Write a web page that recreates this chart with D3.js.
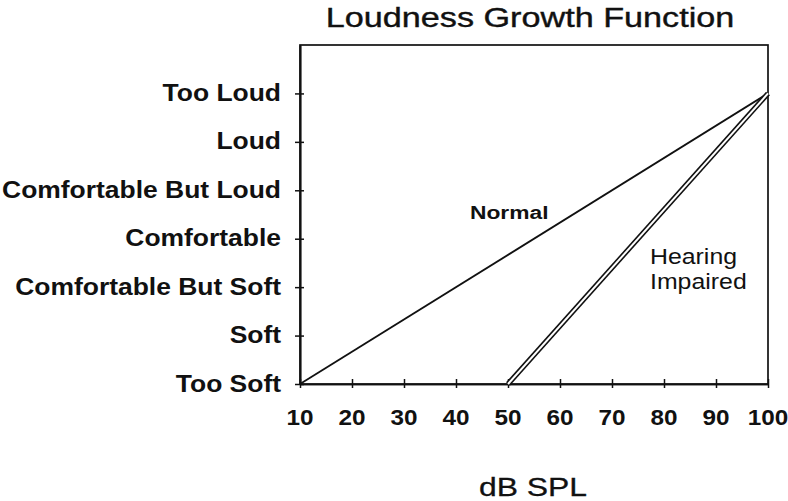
<!DOCTYPE html>
<html>
<head>
<meta charset="utf-8">
<script src="https://cdn.jsdelivr.net/npm/d3@7"></script>
<style>
  html, body { margin: 0; padding: 0; background: #fff; }
  svg { display: block; }
  text { font-family: "Liberation Sans", Arial, Helvetica, sans-serif; fill: #111; }
</style>
</head>
<body>
<svg id="chart" width="788" height="501"></svg>
<script>
// ---- data ----
const categories = ["Too Soft", "Soft", "Comfortable But Soft", "Comfortable", "Comfortable But Loud", "Loud", "Too Loud"];
const xTicks = [10, 20, 30, 40, 50, 60, 70, 80, 90, 100];
const normalDb = [10, 100];
const normalLevel = [0, 6];
const impairedDb = [50, 100];
const impairedLevel = [0, 6];
const chartTitle = "Loudness Growth Function";
const xTitle = "dB SPL";
const normalLabel = "Normal";
const impairedLabel = ["Hearing", "Impaired"];

// ---- layout ----
const svg = d3.select("#chart");
const mLeft = 300, mRight = 768, mTop = 45, mBottom = 384;
const x = d3.scaleLinear().domain([10, 100]).range([mLeft, mRight]);
const y = d3.scaleLinear().domain([0, 7]).range([mBottom, mTop]);
const ink = "#111";

// frame
svg.append("rect")
  .attr("x", mLeft).attr("y", mTop)
  .attr("width", mRight - mLeft).attr("height", mBottom - mTop)
  .attr("fill", "none").attr("stroke", ink).attr("stroke-width", 1.7);

// y axis (ticks crossing the axis)
svg.append("g").attr("transform", `translate(${mLeft},0)`)
  .call(d3.axisLeft(y).tickValues(d3.range(categories.length))
    .tickFormat(() => "").tickSizeInner(5).tickSizeOuter(0));
svg.append("g").attr("transform", `translate(${mLeft},0)`)
  .call(d3.axisRight(y).tickValues(d3.range(categories.length))
    .tickFormat(() => "").tickSizeInner(4).tickSizeOuter(0));

// x axis
svg.append("g").attr("transform", `translate(0,${mBottom})`)
  .call(d3.axisBottom(x).tickValues(xTicks).tickFormat(() => "").tickSizeInner(4).tickSizeOuter(0));
svg.append("g").attr("transform", `translate(0,${mBottom})`)
  .call(d3.axisTop(x).tickValues(xTicks).tickFormat(() => "").tickSizeInner(5).tickSizeOuter(0));

svg.selectAll(".domain").attr("stroke", ink).attr("stroke-width", 1.7);
svg.selectAll(".tick line").attr("stroke", ink).attr("stroke-width", 1.5);

// y tick labels
svg.append("g").selectAll("text").data(categories).join("text")
  .attr("transform", (d, i) => `translate(281,${y(i) + 7.5}) scale(1.15,1)`)
  .attr("text-anchor", "end")
  .attr("font-weight", "bold")
  .attr("font-size", 23)
  .text(d => d);

// x tick labels
svg.append("g").selectAll("text").data(xTicks).join("text")
  .attr("transform", d => `translate(${x(d)},425) scale(1.08,1)`)
  .attr("text-anchor", "middle")
  .attr("font-weight", "bold")
  .attr("font-size", 22.5)
  .text(d => d);

// title
svg.append("text")
  .attr("transform", "translate(530,27) scale(1.2,1)")
  .attr("text-anchor", "middle")
  .attr("font-size", 28.5)
  .attr("stroke", ink).attr("stroke-width", 0.4)
  .text(chartTitle);

// x axis title
svg.append("text")
  .attr("transform", "translate(533,496) scale(1.25,1)")
  .attr("text-anchor", "middle")
  .attr("font-size", 25.5)
  .attr("stroke", ink).attr("stroke-width", 0.3)
  .text(xTitle);

// lines
const line = d3.line().x(d => x(d[0])).y(d => y(d[1]));
const normalPts = normalDb.map((d, i) => [d, normalLevel[i]]);
const impairedPts = impairedDb.map((d, i) => [d, impairedLevel[i]]);

svg.append("path").datum(normalPts).attr("d", line)
  .attr("fill", "none").attr("stroke", ink).attr("stroke-width", 1.8);

svg.append("path").datum(impairedPts).attr("d", line)
  .attr("fill", "none").attr("stroke", ink).attr("stroke-width", 5.2)
  .attr("stroke-linecap", "butt");
svg.append("path").datum(impairedPts).attr("d", line)
  .attr("fill", "none").attr("stroke", "#fff").attr("stroke-width", 2)
  .attr("stroke-linecap", "butt");

// series labels
svg.append("text")
  .attr("transform", "translate(470,219) scale(1.2,1)")
  .attr("font-weight", "bold")
  .attr("font-size", 19)
  .text(normalLabel);

svg.append("g").selectAll("text").data(impairedLabel).join("text")
  .attr("transform", (d, i) => `translate(650,${264 + i * 25}) scale(1.13,1)`)
  .attr("font-size", 22)
  .text(d => d);
</script>
</body>
</html>
